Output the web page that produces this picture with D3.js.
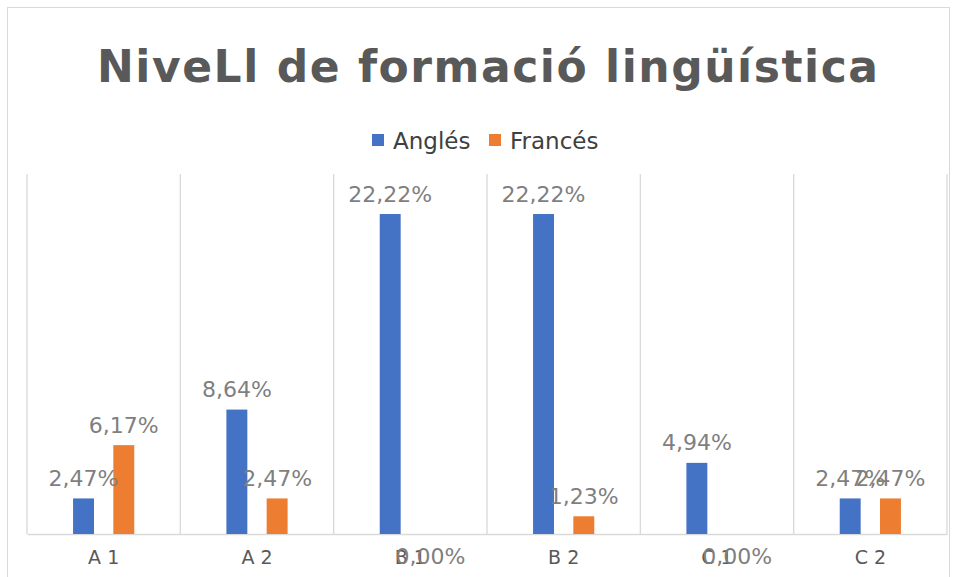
<!DOCTYPE html>
<html>
<head>
<meta charset="utf-8">
<script src="https://cdn.jsdelivr.net/npm/d3@7"></script>
<style>
  body { margin: 0; background: #fff; }
</style>
</head>
<body>
<div id="data-vis"></div>
<script>
const categories = ["A 1", "A 2", "B 1", "B 2", "C 1", "C 2"];
const seriesNames = ["Anglés", "Francés"];
const angles = [2.47, 8.64, 22.22, 22.22, 4.94, 2.47];
const frances = [6.17, 2.47, 0.00, 1.23, 0.00, 2.47];
const seriesColors = ["#4472C4", "#ED7D31"];
const yMax = 25;

function drawVis() {

  const data = categories.map((c, i) => ({
    cat: c,
    values: [
      { key: seriesNames[0], value: angles[i] },
      { key: seriesNames[1], value: frances[i] }
    ]
  }));

  const W = 954, H = 577;
  // plot area
  const plot = { left: 27, right: 947, top: 174, bottom: 534 };

  const svg = d3.select("#data-vis")
    .append("svg")
    .attr("width", W)
    .attr("height", H)
    .attr('style', 'font-family:"DejaVu Sans"');

  // chart frame
  svg.append("rect")
    .attr("x", 7.5)
    .attr("y", 7.5)
    .attr("width", 942)
    .attr("height", 620)
    .attr("fill", "#fff")
    .attr("stroke", "#d9d9d9");

  // title
  svg.append("text")
    .attr("x", 487.5)
    .attr("y", 82)
    .attr("text-anchor", "middle")
    .attr("font-size", 44)
    .attr("font-weight", "bold")
    .attr("fill", "#595959")
    .attr("textLength", 781)
    .attr("lengthAdjust", "spacing")
    .text("NiveLl de formació lingüística");

  // legend
  const legendItems = [
    { name: seriesNames[0], color: seriesColors[0], x: 372 },
    { name: seriesNames[1], color: seriesColors[1], x: 489 }
  ];
  let legend = svg.append("g");
  legend.selectAll("rect")
    .data(legendItems)
    .join("rect")
    .attr("x", d => d.x)
    .attr("y", 134)
    .attr("width", 12)
    .attr("height", 12)
    .attr("fill", d => d.color);
  legend.selectAll("text")
    .data(legendItems)
    .join("text")
    .attr("x", d => d.x + 21)
    .attr("y", 149)
    .attr("font-size", 23)
    .attr("fill", "#404040")
    .text(d => d.name);

  // scales
  const x = d3.scaleBand()
    .domain(categories)
    .range([plot.left, plot.right])
    .padding(0);

  const bw = x.bandwidth();
  const x1 = d3.scaleBand()
    .domain(seriesNames)
    .range([bw / 2 - 30.6, bw / 2 + 30.6])
    .paddingInner(0.48)
    .paddingOuter(0);

  const y = d3.scaleLinear()
    .domain([0, yMax])
    .range([plot.bottom, plot.top]);

  const color = d3.scaleOrdinal()
    .domain(seriesNames)
    .range(seriesColors);

  // vertical gridlines between categories
  const bounds = categories.map(c => x(c)).concat([plot.right]);
  svg.append("g")
    .selectAll("line")
    .data(bounds)
    .join("line")
    .attr("x1", d => d)
    .attr("x2", d => d)
    .attr("y1", plot.top)
    .attr("y2", plot.bottom)
    .attr("stroke", "#d9d9d9")
    .attr("stroke-width", 1.3);

  // x axis
  let xAxis = svg.append("g")
    .attr("transform", `translate(0, ${plot.bottom})`)
    .call(d3.axisBottom(x).tickSize(0).tickPadding(30));
  xAxis.select(".domain").attr("stroke", "#d9d9d9").attr("stroke-width", 1.5);
  xAxis.selectAll("text")
    .attr("font-family", "DejaVu Sans")
    .attr("font-size", 19)
    .attr("fill", "#595959")
    .attr("dy", 0);

  // bars
  let groups = svg.append("g")
    .selectAll("g")
    .data(data)
    .join("g")
    .attr("transform", d => `translate(${x(d.cat)},0)`);

  groups.selectAll("rect")
    .data(d => d.values)
    .join("rect")
    .attr("x", d => x1(d.key))
    .attr("y", d => y(d.value))
    .attr("width", x1.bandwidth())
    .attr("height", d => y(0) - y(d.value))
    .attr("fill", d => color(d.key));

  // data labels
  groups.selectAll("text")
    .data(d => d.values)
    .join("text")
    .attr("x", d => x1(d.key) + x1.bandwidth() / 2)
    .attr("y", d => d.value > 0 ? y(d.value) - 12.5 : y(0) + 30)
    .attr("text-anchor", "middle")
    .attr("font-size", 22)
    .attr("fill", "#7f7f7f")
    .text(d => d.value.toFixed(2).replace(".", ",") + "%");
}

drawVis();
</script>
</body>
</html>
